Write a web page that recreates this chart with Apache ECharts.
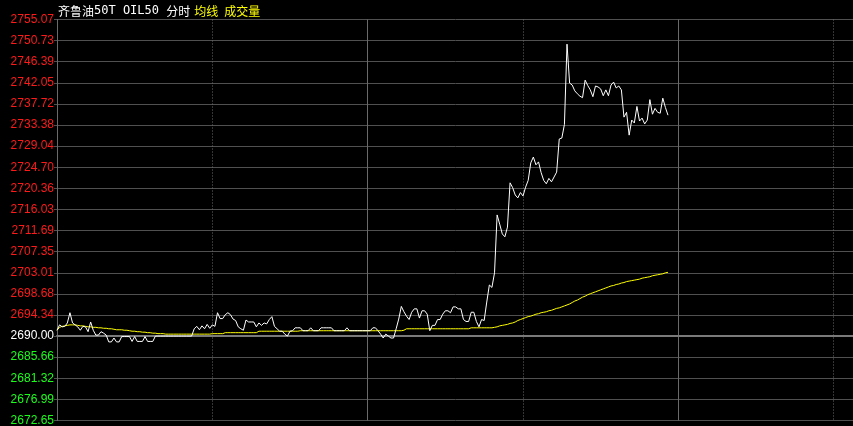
<!DOCTYPE html>
<html>
<head>
<meta charset="utf-8">
<script src="https://cdn.jsdelivr.net/npm/echarts@6/dist/echarts.min.js"></script>
<style>
html,body{margin:0;padding:0;background:#000;}
#c{width:853px;height:426px;}
</style>
</head>
<body>
<div id="c"></div>
<script>
// ---- data ----
const prevClose = 2690.00;
const priceStep = 4.33775;
const titleName = '齐鲁油';
const titleCode = '50T OIL50 ';
const titleKind = '分时';
const titleYellow1 = '均线';
const titleYellow2 = '成交量';
const sessionMinutes = 360;

const price = [
 2691.2,2692.3,2691.9,2692.0,2692.7,2694.8,2692.7,2692.3,2691.9,2691.2,
 2692.0,2691.9,2690.9,2692.9,2691.2,2690.2,2690.2,2690.9,2690.6,2690.2,
 2688.8,2688.8,2689.6,2688.8,2688.8,2689.9,2689.9,2689.9,2689.9,2688.9,
 2689.9,2688.9,2688.9,2688.9,2689.9,2688.9,2688.9,2688.9,2690.0,2690.0,
 2690.0,2690.0,2690.0,2690.0,2690.0,2690.0,2690.0,2690.0,2690.0,2690.0,
 2690.0,2690.0,2690.0,2691.5,2692.0,2691.3,2692.1,2691.5,2692.4,2691.6,
 2692.3,2692.0,2694.8,2693.6,2693.6,2694.4,2694.8,2694.4,2693.5,2693.2,
 2691.9,2691.5,2691.2,2693.3,2692.9,2692.9,2692.9,2691.9,2692.7,2692.2,
 2692.7,2692.5,2693.4,2694.0,2692.0,2691.5,2691.0,2691.0,2690.4,2690.0,
 2691.0,2691.1,2691.7,2691.7,2691.7,2691.1,2691.1,2691.1,2691.7,2691.1,
 2691.1,2691.1,2691.7,2691.7,2691.7,2691.7,2691.7,2691.1,2691.1,2691.1,
 2691.1,2691.1,2691.7,2691.1,2691.1,2691.1,2691.1,2691.1,2691.1,2691.1,
 2691.1,2691.1,2691.7,2691.7,2691.1,2690.4,2689.6,2690.4,2690.0,2689.6,
 2689.6,2691.5,2693.5,2696.1,2695.0,2694.1,2693.4,2694.9,2695.6,2695.6,
 2693.7,2695.2,2695.2,2694.5,2691.1,2692.2,2692.2,2693.4,2693.4,2694.5,
 2695.2,2695.2,2694.8,2696.0,2696.0,2695.6,2695.6,2693.4,2693.0,2693.0,
 2694.9,2694.9,2693.0,2691.9,2693.4,2693.2,2697.0,2700.5,2700.0,2703.0,
 2714.9,2713.0,2711.0,2710.4,2712.4,2721.5,2720.5,2719.0,2718.4,2719.5,
 2718.8,2720.6,2722.0,2725.6,2726.8,2725.2,2725.8,2723.6,2722.0,2721.3,
 2722.4,2721.7,2722.7,2723.7,2730.5,2730.7,2733.5,2750.0,2742.0,2741.6,
 2740.4,2739.8,2739.3,2739.0,2742.6,2741.5,2740.6,2739.2,2741.4,2741.2,
 2740.8,2739.4,2740.6,2739.4,2741.6,2742.2,2741.0,2741.4,2740.6,2735.0,
 2736.0,2731.3,2734.4,2733.8,2737.2,2734.2,2734.8,2733.6,2734.4,2738.6,
 2735.6,2736.8,2736.0,2735.8,2738.9,2737.0,2735.4
];

const average = [
 2691.2,2691.8,2692.0,2692.1,2692.2,2692.3,2692.3,2692.3,2692.2,2692.1,
 2692.1,2692.0,2691.9,2691.9,2691.8,2691.8,2691.7,2691.7,2691.6,2691.6,
 2691.5,2691.5,2691.4,2691.3,2691.3,2691.3,2691.2,2691.2,2691.1,2691.0,
 2691.0,2690.9,2690.9,2690.8,2690.8,2690.7,2690.7,2690.6,2690.6,2690.5,
 2690.5,2690.5,2690.4,2690.4,2690.4,2690.4,2690.4,2690.4,2690.4,2690.4,
 2690.4,2690.4,2690.4,2690.4,2690.4,2690.4,2690.4,2690.4,2690.4,2690.4,
 2690.5,2690.5,2690.5,2690.5,2690.5,2690.7,2690.7,2690.7,2690.7,2690.7,
 2690.7,2690.7,2690.7,2690.7,2690.7,2690.7,2690.7,2690.7,2691.0,2691.0,
 2691.0,2691.0,2691.0,2691.0,2691.0,2691.0,2691.0,2691.0,2691.0,2691.0,
 2691.0,2691.0,2691.0,2691.0,2691.1,2691.1,2691.1,2691.1,2691.1,2691.1,
 2691.1,2691.1,2691.1,2691.1,2691.1,2691.1,2691.1,2691.1,2691.1,2691.1,
 2691.1,2691.1,2691.1,2691.1,2691.1,2691.1,2691.1,2691.1,2691.1,2691.1,
 2691.1,2691.1,2691.1,2691.1,2691.1,2691.1,2691.1,2691.1,2691.1,2691.1,
 2691.1,2691.1,2691.1,2691.1,2691.2,2691.5,2691.5,2691.5,2691.5,2691.5,
 2691.5,2691.5,2691.5,2691.5,2691.5,2691.5,2691.5,2691.5,2691.5,2691.5,
 2691.5,2691.5,2691.5,2691.5,2691.5,2691.5,2691.5,2691.5,2691.5,2691.5,
 2691.7,2691.7,2691.7,2691.7,2691.7,2691.7,2691.7,2691.7,2691.7,2691.8,
 2691.9,2692.1,2692.2,2692.3,2692.4,2692.6,2692.7,2692.9,2693.2,2693.4,
 2693.6,2693.8,2694.0,2694.1,2694.3,2694.5,2694.6,2694.8,2694.9,2695.0,
 2695.2,2695.3,2695.5,2695.7,2695.8,2696.0,2696.2,2696.4,2696.6,2696.9,
 2697.2,2697.4,2697.7,2698.0,2698.2,2698.5,2698.7,2698.9,2699.1,2699.3,
 2699.5,2699.7,2699.9,2700.1,2700.3,2700.4,2700.6,2700.7,2700.9,2701.0,
 2701.2,2701.3,2701.4,2701.5,2701.6,2701.7,2701.9,2702.0,2702.1,2702.2,
 2702.4,2702.5,2702.6,2702.7,2702.8,2703.0,2703.1
];

// ---- chart ----
const chart = echarts.init(document.getElementById('c'), null, {renderer: 'canvas'});
const toSeries = arr => arr.map((p, i) => [i, p - prevClose]);

const gridColor = '#505050';
const vColor = '#6a6a6a';
const cjk = '"Noto Sans CJK SC"';
const option = {
  backgroundColor: '#000000',
  animation: false,
  grid: {left: 57, top: 19.5, width: 932, bottom: 5.5, containLabel: false, outerBoundsMode: 'none'},
  graphic: [
    {type: 'text', left: 58, top: 5, z: 10, style: {
      text: '{c|' + titleName + '}{m|' + titleCode + '}{c|' + titleKind + '}{s| }{y|' + titleYellow1 + '}{s2| }{y|' + titleYellow2 + '}',
      rich: {
        c: {fill: '#ffffff', fontSize: 12, fontFamily: cjk},
        m: {fill: '#ffffff', fontSize: 12, fontFamily: '"DejaVu Sans Mono", monospace'},
        s: {fill: '#ffffff', fontSize: 12, fontFamily: cjk, width: 4},
        s2: {fill: '#ffffff', fontSize: 12, fontFamily: cjk, width: 6},
        y: {fill: '#ffff00', fontSize: 12, fontFamily: cjk}
      }
    }}
  ],
  xAxis: {
    type: 'value', min: 0, max: sessionMinutes, interval: 120,
    axisLine: {show: true, onZero: true, lineStyle: {color: '#7a7a7a', width: 2}},
    axisTick: {show: false}, axisLabel: {show: false},
    splitLine: {show: true, lineStyle: {color: vColor, width: 1, type: 'solid'}},
    minorTick: {show: false, splitNumber: 2},
    minorSplitLine: {show: true, lineStyle: {color: vColor, width: 1, type: [1, 2]}}
  },
  yAxis: {
    type: 'value', min: -4 * priceStep, max: 15 * priceStep, interval: priceStep,
    axisLine: {show: true, lineStyle: {color: vColor, width: 1}},
    axisTick: {show: true, length: 3, lineStyle: {color: gridColor}},
    splitLine: {show: true, lineStyle: {color: gridColor, width: 1}},
    axisLabel: {
      margin: 3,
      fontFamily: '"Liberation Sans", Arial, sans-serif',
      fontSize: 12,
      formatter: v => (prevClose + v).toFixed(2),
      color: v => { const n = parseFloat(v); return n > 1e-6 ? '#ff1a1a' : (n < -1e-6 ? '#1aff1a' : '#ffffff'); }
    }
  },
  series: [
    {
      type: 'line', data: toSeries(average), showSymbol: false, z: 3,
      lineStyle: {color: '#ffff00', width: 1}, itemStyle: {color: '#ffff00'}
    },
    {
      type: 'line', data: toSeries(price), showSymbol: false, z: 4,
      lineStyle: {color: '#ffffff', width: 1}, itemStyle: {color: '#ffffff'}
    }
  ]
};
chart.setOption(option);
</script>
</body>
</html>
